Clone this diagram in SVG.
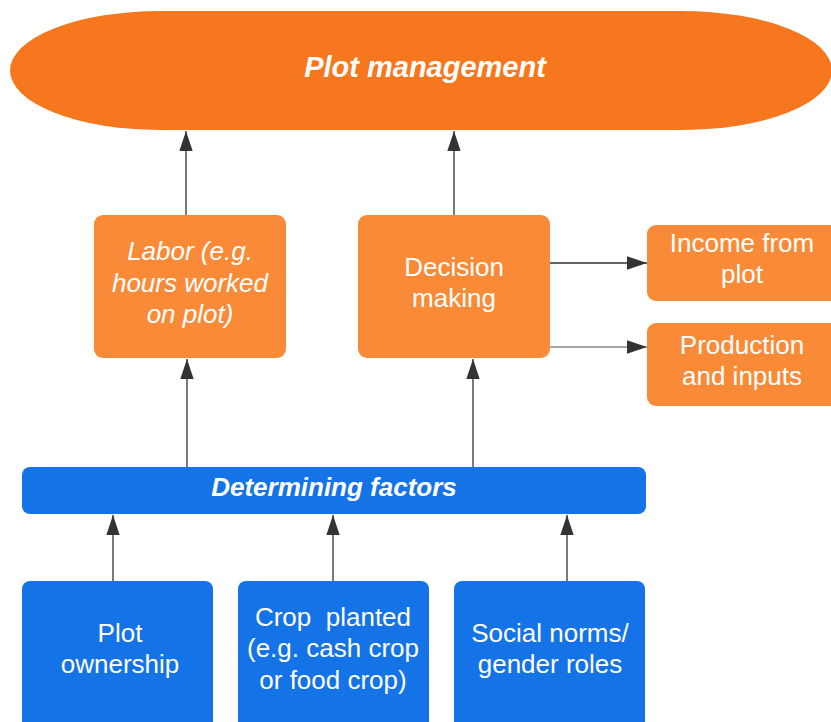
<svg xmlns="http://www.w3.org/2000/svg" width="831" height="722" viewBox="0 0 831 722">
<style>
.orange-main{fill:#F7771E}
.orange{fill:#F98B38}
.blue{fill:#1473E6}
.t{font-family:"Liberation Sans",Arial,sans-serif;fill:#FFFFFF;text-anchor:middle;font-size:26px}
.bi{font-weight:bold;font-style:italic}
.i{font-style:italic}
.conn{stroke:#333333;stroke-width:1.3;fill:none}
.conn-light{stroke:#8a8a8a;stroke-width:1.3;fill:none}
</style>
<defs>
<marker id="arr" markerUnits="userSpaceOnUse" markerWidth="20" markerHeight="14" viewBox="0 0 18 12" refX="18" refY="6" orient="auto">
<path d="M0,0 L18,6 L0,12 Z" fill="#333333"/>
</marker>
</defs>
<rect width="831" height="722" fill="#FFFFFF"/>
<g id="connectors">
<line class="conn" x1="186" y1="215" x2="186" y2="131" marker-end="url(#arr)"/>
<line class="conn" x1="454" y1="215" x2="454" y2="131" marker-end="url(#arr)"/>
<line class="conn" x1="550" y1="263" x2="647" y2="263" marker-end="url(#arr)"/>
<line class="conn-light" x1="550" y1="347" x2="647" y2="347" marker-end="url(#arr)"/>
<line class="conn" x1="187" y1="467" x2="187" y2="359" marker-end="url(#arr)"/>
<line class="conn" x1="473" y1="467" x2="473" y2="359" marker-end="url(#arr)"/>
<line class="conn" x1="113" y1="581" x2="113" y2="515" marker-end="url(#arr)"/>
<line class="conn" x1="333" y1="581" x2="333" y2="515" marker-end="url(#arr)"/>
<line class="conn" x1="567" y1="581" x2="567" y2="515" marker-end="url(#arr)"/>
</g>
<g id="plot-management">
<rect class="orange-main" x="10" y="11" width="822" height="119" rx="150" ry="59.5"/>
<text class="t bi" x="425" y="77" style="font-size:29px">Plot management</text>
</g>
<g id="labor">
<rect class="orange" x="94" y="215" width="192" height="143" rx="9"/>
<text class="t i" x="190" y="260">Labor (e.g.</text>
<text class="t i" x="190" y="292">hours worked</text>
<text class="t i" x="190" y="323">on plot)</text>
</g>
<g id="decision-making">
<rect class="orange" x="358" y="215" width="192" height="143" rx="9"/>
<text class="t" x="454" y="276">Decision</text>
<text class="t" x="454" y="307">making</text>
</g>
<g id="income">
<rect class="orange" x="647" y="225" width="195" height="76" rx="9"/>
<text class="t" x="742" y="252">Income from</text>
<text class="t" x="742" y="283">plot</text>
</g>
<g id="production">
<rect class="orange" x="647" y="323" width="195" height="83" rx="9"/>
<text class="t" x="742" y="354">Production</text>
<text class="t" x="742" y="385">and inputs</text>
</g>
<g id="determining-factors">
<rect class="blue" x="22" y="467" width="624" height="47" rx="8"/>
<text class="t bi" x="334" y="496">Determining factors</text>
</g>
<g id="plot-ownership">
<rect class="blue" x="22" y="581" width="191" height="150" rx="8"/>
<text class="t" x="120" y="642">Plot</text>
<text class="t" x="120" y="673">ownership</text>
</g>
<g id="crop-planted">
<rect class="blue" x="238" y="581" width="191" height="150" rx="8"/>
<text class="t" x="333" y="626" xml:space="preserve">Crop  planted</text>
<text class="t" x="333" y="657">(e.g. cash crop</text>
<text class="t" x="333" y="689">or food crop)</text>
</g>
<g id="social-norms">
<rect class="blue" x="454" y="581" width="191" height="150" rx="8"/>
<text class="t" x="550" y="642">Social norms/</text>
<text class="t" x="550" y="673">gender roles</text>
</g>
</svg>
